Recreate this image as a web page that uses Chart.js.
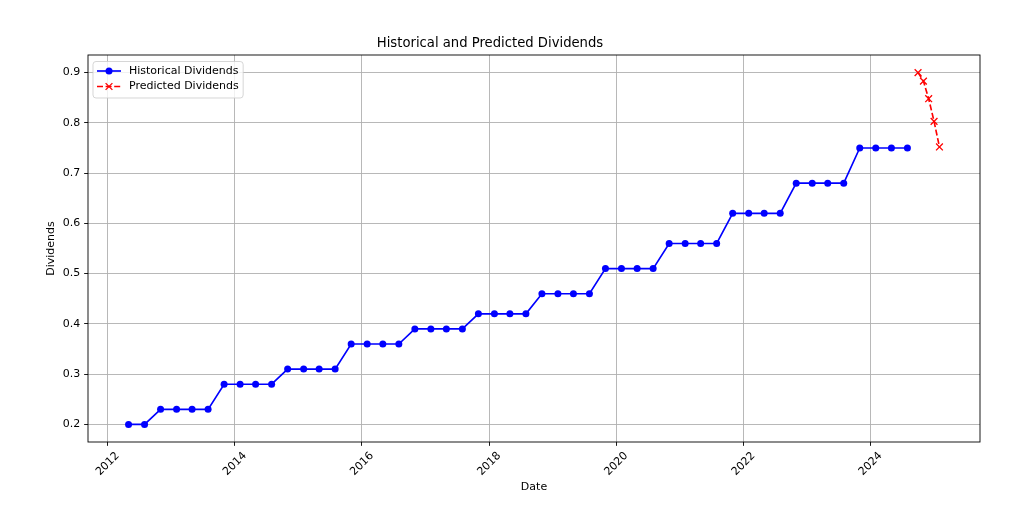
<!DOCTYPE html>
<html>
<head>
<meta charset="utf-8">
<script src="https://cdn.jsdelivr.net/npm/chart.js@4.4.1/dist/chart.umd.min.js"></script>
<style>
  html, body { margin: 0; padding: 0; background: #fff; }
  #wrap { width: 1024px; height: 528px; }
</style>
</head>
<body>
<div id="wrap"><canvas id="divChart"></canvas></div>
<script>
// quarterly dividends that were paid
const histDates = [
  '2012-04-30', '2012-07-31', '2012-10-31',
  '2013-01-31', '2013-04-30', '2013-07-31', '2013-10-31',
  '2014-01-31', '2014-04-30', '2014-07-31', '2014-10-31',
  '2015-01-31', '2015-04-30', '2015-07-31', '2015-10-31',
  '2016-01-31', '2016-04-30', '2016-07-31', '2016-10-31',
  '2017-01-31', '2017-04-30', '2017-07-31', '2017-10-31',
  '2018-01-31', '2018-04-30', '2018-07-31', '2018-10-31',
  '2019-01-31', '2019-04-30', '2019-07-31', '2019-10-31',
  '2020-01-31', '2020-04-30', '2020-07-31', '2020-10-31',
  '2021-01-31', '2021-04-30', '2021-07-31', '2021-10-31',
  '2022-01-31', '2022-04-30', '2022-07-31', '2022-10-31',
  '2023-01-31', '2023-04-30', '2023-07-31', '2023-10-31',
  '2024-01-31', '2024-04-30', '2024-07-31'
];
const histValues = [
  0.20, 0.20, 0.23,
  0.23, 0.23, 0.23, 0.28,
  0.28, 0.28, 0.28, 0.31,
  0.31, 0.31, 0.31, 0.36,
  0.36, 0.36, 0.36, 0.39,
  0.39, 0.39, 0.39, 0.42,
  0.42, 0.42, 0.42, 0.46,
  0.46, 0.46, 0.46, 0.51,
  0.51, 0.51, 0.51, 0.56,
  0.56, 0.56, 0.56, 0.62,
  0.62, 0.62, 0.62, 0.68,
  0.68, 0.68, 0.68, 0.75,
  0.75, 0.75, 0.75
];

// model output, monthly
const predDates = ['2024-09-30', '2024-10-31', '2024-11-30', '2024-12-31', '2025-01-31'];
const predValues = [0.900, 0.883, 0.848, 0.803, 0.752];

const yTicks = [0.2, 0.3, 0.4, 0.5, 0.6, 0.7, 0.8, 0.9];
const xTickYears = [2012, 2014, 2016, 2018, 2020, 2022, 2024];

const FONT = "'DejaVu Sans', sans-serif";
const toMs = s => Date.parse(s + 'T00:00:00Z');

// matplotlib style 5% margins around the data
const allX = histDates.concat(predDates).map(toMs);
const allY = histValues.concat(predValues);
const xMin = Math.min(...allX), xMax = Math.max(...allX);
const yMin = Math.min(...allY), yMax = Math.max(...allY);
const xPad = (xMax - xMin) * 0.05, yPad = (yMax - yMin) * 0.05;

// axes frame on top of the lines
const frame = {
  id: 'frame',
  afterDatasetsDraw(chart) {
    const { ctx, chartArea: a } = chart;
    ctx.save();
    ctx.strokeStyle = '#000';
    ctx.lineWidth = 0.9;
    ctx.strokeRect(a.left, a.top, a.right - a.left, a.bottom - a.top);
    ctx.restore();
  }
};

// legend box in the upper left corner, drawn like matplotlib's
const legendBox = {
  id: 'legendBox',
  afterDraw(chart) {
    const { ctx, chartArea: a } = chart;
    const sets = chart.data.datasets;
    ctx.save();
    ctx.font = '11px ' + FONT;
    const textW = Math.max(...sets.map(d => ctx.measureText(d.label).width));
    const x0 = a.left + 5, y0 = a.top + 6.5;
    const w = 36 + textW + 4.5, h = 36.5;

    ctx.beginPath();
    ctx.roundRect(x0, y0, w, h, 3);
    ctx.fillStyle = 'rgba(255,255,255,0.8)';
    ctx.fill();
    ctx.strokeStyle = 'rgba(204,204,204,0.8)';
    ctx.lineWidth = 1;
    ctx.stroke();

    sets.forEach((ds, i) => {
      const cy = y0 + 9.5 + i * 15.5;
      ctx.save();
      ctx.strokeStyle = ds.borderColor;
      ctx.lineWidth = ds.borderWidth;
      ctx.setLineDash(ds.borderDash || []);
      ctx.beginPath();
      ctx.moveTo(x0 + 4, cy);
      ctx.lineTo(x0 + 28, cy);
      ctx.stroke();
      ctx.restore();

      ctx.save();
      ctx.fillStyle = ds.pointBackgroundColor;
      ctx.strokeStyle = ds.pointBorderColor;
      ctx.lineWidth = ds.pointBorderWidth;
      Chart.helpers.drawPoint(ctx, {
        pointStyle: ds.pointStyle, rotation: 0,
        radius: ds.pointRadius, borderWidth: ds.pointBorderWidth
      }, x0 + 16, cy);
      ctx.restore();

      ctx.fillStyle = '#000';
      ctx.textBaseline = 'middle';
      ctx.textAlign = 'left';
      ctx.fillText(ds.label, x0 + 36, cy);
    });
    ctx.restore();
  }
};

const ctx = document.getElementById('divChart').getContext('2d');
new Chart(ctx, {
  type: 'line',
  data: {
    datasets: [{
      label: 'Historical Dividends',
      data: histDates.map((d, i) => ({ x: toMs(d), y: histValues[i] })),
      borderColor: '#0000ff',
      backgroundColor: '#0000ff',
      borderWidth: 1.65,
      tension: 0,
      pointStyle: 'circle',
      pointRadius: 3.5,
      pointBackgroundColor: '#0000ff',
      pointBorderColor: '#0000ff',
      pointBorderWidth: 0
    }, {
      label: 'Predicted Dividends',
      data: predDates.map((d, i) => ({ x: toMs(d), y: predValues[i] })),
      borderColor: '#ff0000',
      backgroundColor: '#ff0000',
      borderWidth: 1.65,
      borderDash: [6, 2.6],
      tension: 0,
      pointStyle: 'crossRot',
      pointRadius: 4.8,
      pointBackgroundColor: '#ff0000',
      pointBorderColor: '#ff0000',
      pointBorderWidth: 1.3
    }]
  },
  options: {
    responsive: true,
    maintainAspectRatio: false,
    animation: false,
    devicePixelRatio: 1,
    layout: { padding: { left: 0, right: 44, top: 0, bottom: 0 } },
    plugins: {
      legend: { display: false },
      tooltip: { enabled: false },
      title: {
        display: true,
        text: 'Historical and Predicted Dividends',
        color: '#000',
        font: { family: FONT, size: 13.2, weight: 'normal' },
        padding: { top: 36.1, bottom: 3.06 }
      }
    },
    scales: {
      x: {
        type: 'linear',
        min: xMin - xPad,
        max: xMax + xPad,
        afterBuildTicks: scale => {
          scale.ticks = xTickYears.map(y => ({ value: Date.UTC(y, 0, 1) }));
        },
        afterFit: scale => { scale.height = 86; },
        ticks: {
          autoSkip: false,
          minRotation: 45,
          maxRotation: 45,
          padding: 3.5,
          labelOffset: 10,
          color: '#000',
          font: { family: FONT, size: 11 },
          callback: v => String(new Date(v).getUTCFullYear())
        },
        grid: {
          color: '#b0b0b0',
          lineWidth: 0.9,
          tickColor: '#000',
          tickLength: 3.85,
          tickWidth: 0.9
        },
        border: { display: false },
        title: {
          display: true,
          text: 'Date',
          color: '#000',
          font: { family: FONT, size: 11 },
          padding: { top: 0, bottom: 34.7 }
        }
      },
      y: {
        min: yMin - yPad,
        max: yMax + yPad,
        afterBuildTicks: scale => {
          scale.ticks = yTicks.map(v => ({ value: v }));
        },
        afterFit: scale => { scale.width = 88; },
        ticks: {
          padding: 3.85,
          color: '#000',
          font: { family: FONT, size: 11 },
          callback: v => v.toFixed(1)
        },
        grid: {
          color: '#b0b0b0',
          lineWidth: 0.9,
          tickColor: '#000',
          tickLength: 3.85,
          tickWidth: 0.9
        },
        border: { display: false },
        title: {
          display: true,
          text: 'Dividends',
          color: '#000',
          font: { family: FONT, size: 11 },
          padding: { top: 44.4, bottom: 0 }
        }
      }
    }
  },
  plugins: [frame, legendBox]
});
</script>
</body>
</html>
